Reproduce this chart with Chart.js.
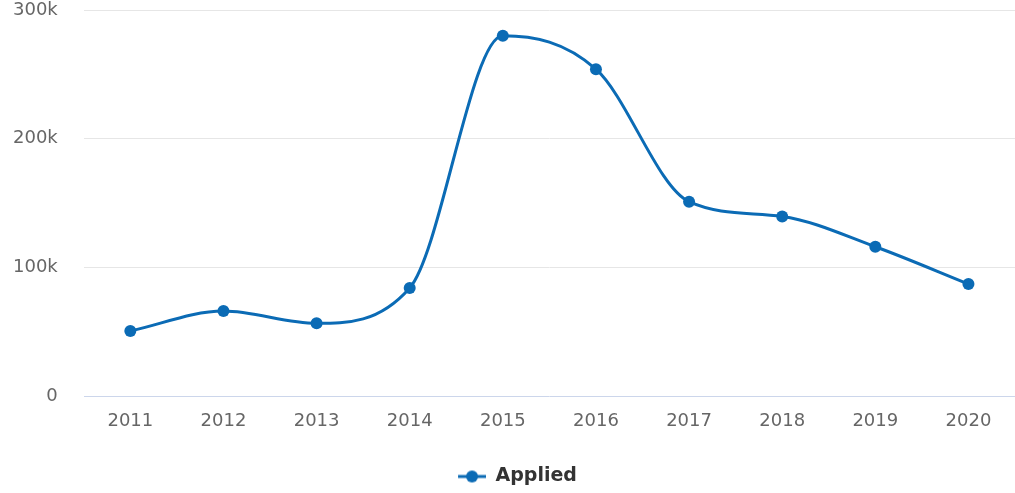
<!DOCTYPE html>
<html>
<head>
<meta charset="utf-8">
<script src="https://cdn.jsdelivr.net/npm/chart.js@4/dist/chart.umd.min.js"></script>
<style>
  html, body { margin: 0; padding: 0; background: #fff; overflow: hidden; }
  #wrap { width: 1015px; height: 493px; }
  canvas { display: block; }
</style>
</head>
<body>
<div id="wrap"><canvas id="appliedChart"></canvas></div>
<script>
const years = ['2011', '2012', '2013', '2014', '2015', '2016', '2017', '2018', '2019', '2020'];
const applied = [50500, 66000, 56500, 84000, 280000, 254000, 151000, 139500, 116000, 87000];
const yTicks = [0, 100000, 200000, 300000];

const lineBlue = '#0b6bb5';

// legend symbol: short line with a dot, like the original
// (transparent space on the left nudges the legend item to the right)
function legendSymbol() {
    const c = document.createElement('canvas');
    c.width = 54; c.height = 14;
    const g = c.getContext('2d');
    g.strokeStyle = lineBlue;
    g.lineWidth = 3;
    g.beginPath(); g.moveTo(26, 7); g.lineTo(54, 7); g.stroke();
    g.fillStyle = lineBlue;
    g.beginPath(); g.arc(40, 7, 6, 0, Math.PI * 2); g.fill();
    return c;
}

document.addEventListener('DOMContentLoaded', function() {
    const ctx = document.getElementById('appliedChart').getContext('2d');
    Chart.defaults.font.family = '"DejaVu Sans", Verdana, sans-serif';

    new Chart(ctx, {
        type: 'line',
        data: {
            labels: years,
            datasets: [{
                label: 'Applied',
                data: applied,
                borderColor: lineBlue,
                backgroundColor: lineBlue,
                borderWidth: 3,
                pointRadius: 6,
                pointHoverRadius: 7,
                pointBackgroundColor: lineBlue,
                pointBorderWidth: 0,
                cubicInterpolationMode: 'monotone',
                fill: false,
                pointStyle: 'circle'
            }]
        },
        options: {
            responsive: true,
            maintainAspectRatio: false,
            animation: false,
            layout: { autoPadding: false, padding: { left: -13, right: -7, top: 10, bottom: -3 } },
            plugins: {
                legend: {
                    position: 'bottom',
                    labels: {
                        usePointStyle: true,
                        pointStyle: legendSymbol(),
                        pointStyleWidth: 54,
                        color: '#333',
                        font: { size: 19, weight: 'bold' },
                        padding: 9
                    }
                },
                tooltip: { enabled: true }
            },
            scales: {
                x: {
                    offset: true,
                    grid: { display: false, drawTicks: false },
                    border: { display: false },
                    ticks: { color: '#666', font: { size: 18 }, padding: 15 },
                    afterFit: function(axis) {
                        axis.paddingLeft = 0;
                        axis.paddingRight = 0;
                        axis.height = 62;
                    }
                },
                y: {
                    min: 0,
                    max: 300000,
                    afterBuildTicks: function(axis) {
                        axis.ticks = yTicks.map(v => ({ value: v }));
                    },
                    afterFit: function(axis) {
                        axis.paddingTop = 0;
                        axis.paddingBottom = 0;
                    },
                    grid: {
                        drawTicks: false,
                        color: c => c.tick && c.tick.value === 0 ? '#ccd6eb' : '#e6e6e6',
                        lineWidth: 1
                    },
                    border: { display: false },
                    ticks: {
                        color: '#666',
                        font: { size: 18 },
                        padding: 26,
                        callback: v => v === 0 ? '0' : (v / 1000) + 'k'
                    }
                }
            }
        }
    });
});
</script>
</body>
</html>
